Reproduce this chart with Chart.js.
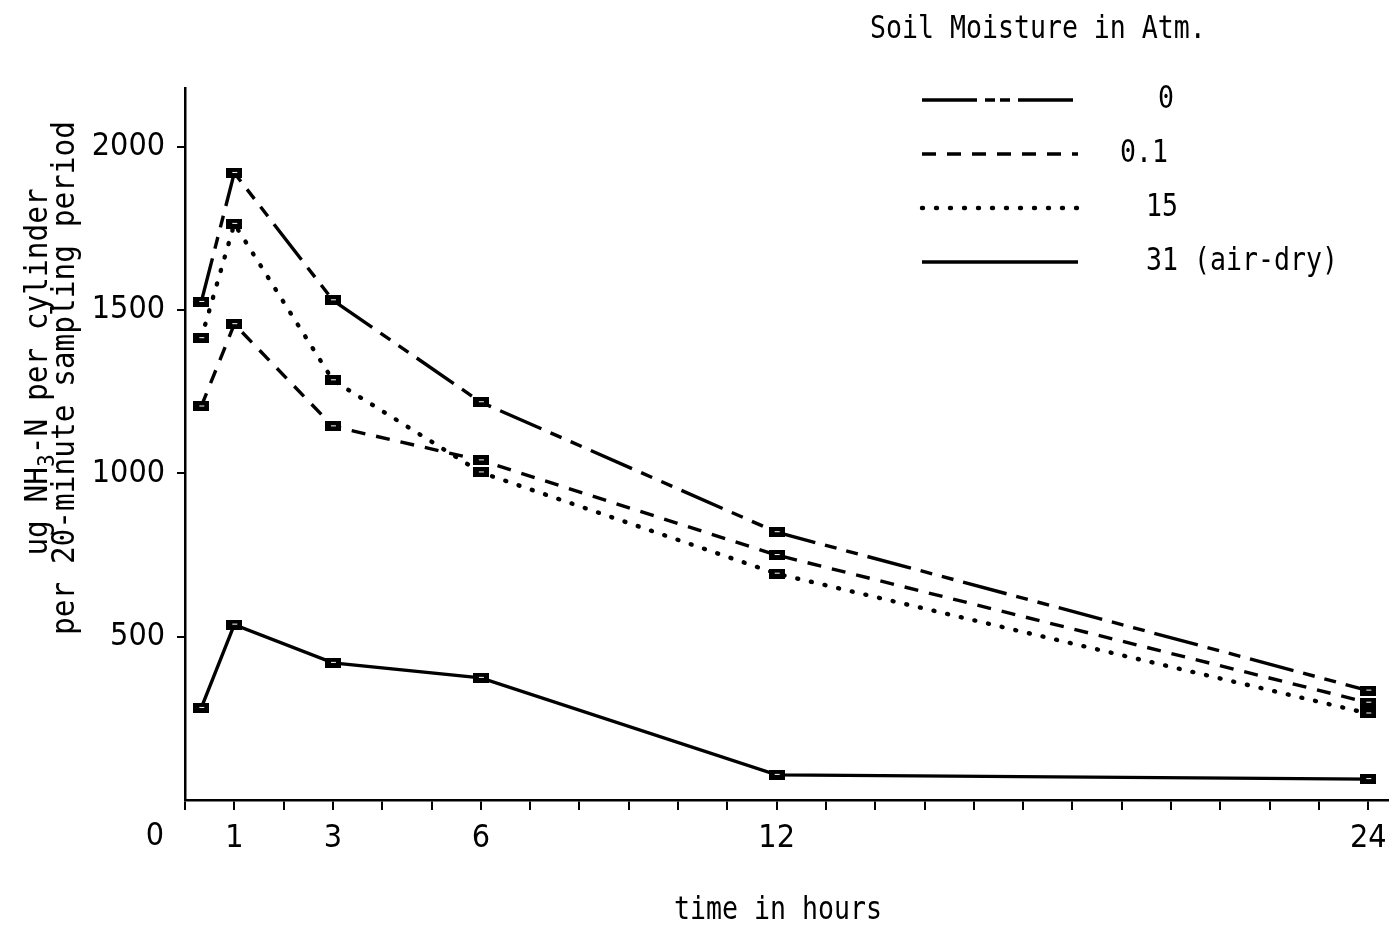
<!DOCTYPE html>
<html>
<head>
<meta charset="utf-8">
<script src="https://cdn.jsdelivr.net/npm/chart.js@4.4.1/dist/chart.umd.min.js"></script>
<style>
html,body{margin:0;padding:0;background:#fff}
#wrap{width:1400px;height:929px}
</style>
</head>
<body>
<div id="wrap"><canvas id="c" width="1400" height="929"></canvas></div>
<script>
// sampling times (hours) and NH3-N loss per soil moisture level
var HOURS=[0.33,1,3,6,12,24];
var SERIES_NAMES=['0','0.1','15','31 (air-dry)'];
var ATM_0=[1525,1920,1530,1218,820,335];
var ATM_01=[1205,1457,1144,1040,750,298];
var ATM_15=[1414,1764,1285,1003,693,265];
var ATM_31=[282,537,420,374,77,64];
var Y_TICKS=[500,1000,1500,2000];
var X_TICKS=[0,1,2,3,4,5,6,7,8,9,10,11,12,13,14,15,16,17,18,19,20,21,22,23,24];
var X_LABELS=[1,3,6,12,24];

var INK='#000';
var TICK_FONT="'Liberation Sans Narrow','DejaVu Sans Condensed',sans-serif";
var MONO="'DejaVu Sans Mono',monospace";

// line styles: long-short-short, short dash, dotted, solid
var DASHES=[[45,10,12,10,12,10],[14,11],[1,13],[]];
var CAPS=['butt','butt','round','butt'];
var WIDTHS=[3.4,3.4,4.4,3.4];

// small boxed marker used for every data point
function makeMarker(){
  var m=document.createElement('canvas');
  m.width=16;m.height=10;
  var g=m.getContext('2d');
  g.fillStyle=INK;g.fillRect(0,0,16,10);
  g.fillStyle='#fff';g.fillRect(6,4,5,1);
  return m;
}
var marker=makeMarker();

function pts(vals){
  return vals.map(function(v,i){return {x:HOURS[i],y:v};});
}
var seriesVals=[ATM_0,ATM_01,ATM_15,ATM_31];

var datasets=seriesVals.map(function(vals,i){
  return {
    label:SERIES_NAMES[i],
    data:pts(vals),
    borderColor:INK,
    borderWidth:WIDTHS[i],
    borderDash:DASHES[i],
    borderCapStyle:CAPS[i],
    tension:0,
    fill:false,
    pointStyle:marker,
    pointRadius:6,
    pointHoverRadius:6
  };
});

// condensed mono text helper
function monoText(ctx,text,x,y,size,sx,align){
  ctx.save();
  ctx.font=size+'px '+MONO;
  ctx.fillStyle=INK;
  ctx.textBaseline='middle';
  var w=ctx.measureText(text).width*sx;
  var left=align==='center'?x-w/2:(align==='right'?x-w:x);
  ctx.translate(left,y);
  ctx.scale(sx,1);
  ctx.fillText(text,0,0);
  ctx.restore();
}

function monoRot(ctx,text,cx,cy,size,sx){
  ctx.save();
  ctx.fillStyle=INK;
  ctx.font=size+'px '+MONO;
  ctx.textBaseline='middle';
  var w=ctx.measureText(text).width*sx;
  ctx.translate(cx,cy);
  ctx.rotate(-Math.PI/2);
  ctx.translate(-w/2,0);
  ctx.scale(sx,1);
  ctx.fillText(text,0,0);
  ctx.restore();
}

var decor={
  id:'decor',
  afterDraw:function(chart){
    var ctx=chart.ctx;
    // heading above the key
    monoText(ctx,'Soil Moisture in Atm.',870,30,32,0.83,'left');

    // key
    var rows=[100,154,208,262];
    var labX=[1158,1120,1146,1146];
    for(var i=0;i<4;i++){
      ctx.save();
      ctx.strokeStyle=INK;
      ctx.lineWidth=WIDTHS[i];
      ctx.lineCap=CAPS[i];
      ctx.setLineDash(i===0?[55,8,10,5,10,8]:DASHES[i]);
      ctx.beginPath();
      ctx.moveTo(922,rows[i]);ctx.lineTo(1078,rows[i]);
      ctx.stroke();
      ctx.restore();
      monoText(ctx,SERIES_NAMES[i],labX[i],rows[i],32,0.83,'left');
    }

    // origin label
    ctx.save();
    ctx.font='32px '+TICK_FONT;
    ctx.fillStyle=INK;
    ctx.textAlign='center';ctx.textBaseline='middle';
    ctx.fillText('0',155,837);
    ctx.restore();

    // x axis title
    monoText(ctx,'time in hours',778,911,32,0.83,'center');

    // y axis title, two rotated lines, with NH3 subscript
    var sx=0.92,size=32;
    ctx.save();
    ctx.fillStyle=INK;
    ctx.font=size+'px '+MONO;
    var a='ug NH',b='3',c='-N per cylinder';
    var wa=ctx.measureText(a).width,wc=ctx.measureText(c).width;
    ctx.font=(size*0.72)+'px '+MONO;
    var wb=ctx.measureText(b).width;
    var total=(wa+wb+wc)*sx;
    ctx.translate(39,372);
    ctx.rotate(-Math.PI/2);
    ctx.translate(-total/2,0);
    ctx.scale(sx,1);
    ctx.textBaseline='middle';
    ctx.font=size+'px '+MONO;
    ctx.fillText(a,0,0);
    ctx.font=(size*0.72)+'px '+MONO;
    ctx.fillText(b,wa,9);
    ctx.font=size+'px '+MONO;
    ctx.fillText(c,wa+wb,0);
    ctx.restore();
    monoRot(ctx,'per 20-minute sampling period',66,378,size,sx);
  }
};

new Chart(document.getElementById('c'),{
  type:'line',
  data:{datasets:datasets},
  options:{
    responsive:false,
    animation:false,
    events:[],
    layout:{padding:{top:88,right:12,left:0,bottom:0}},
    plugins:{legend:{display:false},tooltip:{enabled:false}},
    scales:{
      x:{
        type:'linear',
        min:0,max:24.4,
        afterBuildTicks:function(s){s.ticks=X_TICKS.map(function(v){return {value:v};});},
        afterFit:function(s){s.height=129;},
        border:{display:true,color:INK,width:2.5},
        grid:{drawOnChartArea:false,color:INK,lineWidth:2,tickLength:10},
        ticks:{
          autoSkip:false,maxRotation:0,padding:9,color:INK,
          font:{family:TICK_FONT,size:32},
          callback:function(v){return X_LABELS.indexOf(v)>=0?String(v):'';}
        }
      },
      y:{
        min:0,max:2180,
        afterBuildTicks:function(s){s.ticks=Y_TICKS.map(function(v){return {value:v};});},
        afterFit:function(s){s.width=185;},
        border:{display:true,color:INK,width:2.5},
        grid:{drawOnChartArea:false,color:INK,lineWidth:2,tickLength:8},
        ticks:{
          padding:12,color:INK,
          font:{family:TICK_FONT,size:32},
          callback:function(v){return String(v);}
        }
      }
    }
  },
  plugins:[decor]
});
</script>
</body>
</html>
